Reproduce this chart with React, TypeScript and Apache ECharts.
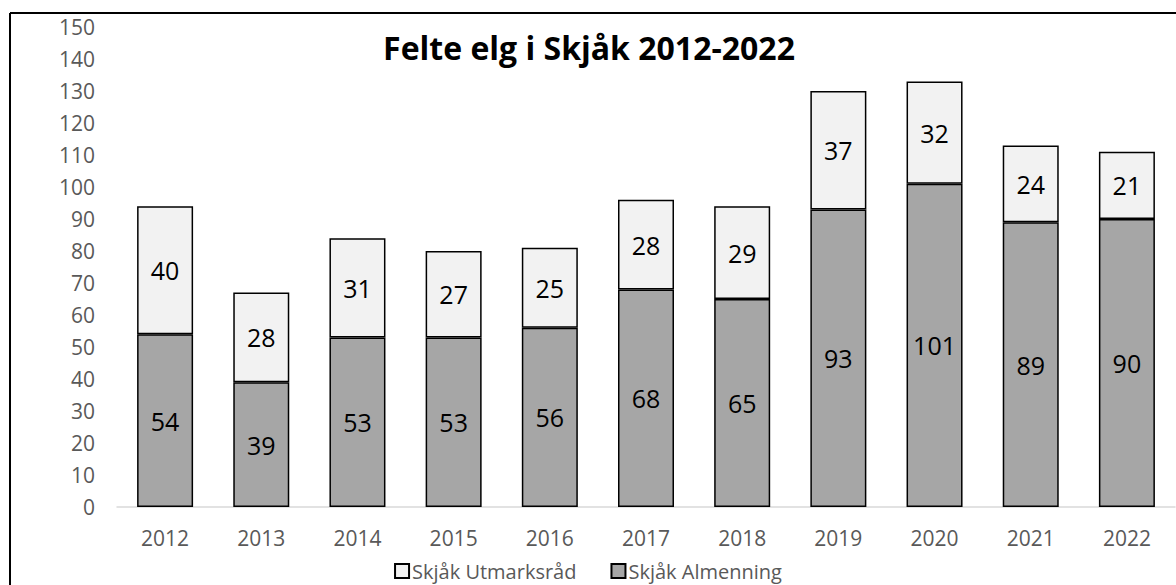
import React, { useEffect, useRef } from "react";
import * as echarts from "echarts";

const years = ["2012", "2013", "2014", "2015", "2016", "2017", "2018", "2019", "2020", "2021", "2022"];
const almenning = [54, 39, 53, 53, 56, 68, 65, 93, 101, 89, 90];
const utmarksrad = [40, 28, 31, 27, 25, 28, 29, 37, 32, 24, 21];
const titleText = "Felte elg i Skjåk 2012-2022";
const seriesNames = ["Skjåk Almenning", "Skjåk Utmarksråd"];

const FONT = "'Open Sans', sans-serif";

export default function App() {
  const ref = useRef<HTMLDivElement>(null);
  useEffect(() => {
    if (!ref.current) return;
    const chart = echarts.init(ref.current, null, { renderer: "svg" });
    const labelStyle = {
      show: true,
      position: "inside",
      color: "#000",
      fontFamily: FONT,
      fontSize: 25,
    };
    chart.setOption({
      animation: false,
      backgroundColor: "#fff",
      title: {
        text: titleText,
        left: 584,
        top: 26,
        textAlign: "center",
        textStyle: { fontFamily: FONT, fontSize: 32, fontWeight: "bold", color: "#000" },
      },
      legend: {
        data: [seriesNames[1], seriesNames[0]],
        left: "center",
        top: 556,
        itemWidth: 14,
        itemHeight: 14,
        itemGap: 34,
        icon: "rect",
        textStyle: { fontFamily: FONT, fontSize: 20, color: "#595959", padding: [0, 0, 0, -2] },
      },
      grid: { left: 117, right: 1, top: 27, bottom: 585 - 507 },
      xAxis: {
        type: "category",
        data: years,
        axisLine: { show: true, lineStyle: { color: "#d9d9d9", width: 1.5 } },
        axisTick: { show: false },
        axisLabel: { color: "#595959", fontFamily: FONT, fontSize: 21, margin: 20 },
      },
      yAxis: {
        type: "value",
        min: 0,
        max: 150,
        interval: 10,
        splitLine: { show: false },
        axisLine: { show: false },
        axisTick: { show: false },
        axisLabel: { color: "#595959", fontFamily: FONT, fontSize: 21, margin: 22 },
      },
      series: [
        {
          name: seriesNames[0],
          type: "bar",
          stack: "total",
          data: almenning,
          barWidth: 56,
          itemStyle: { color: "#a6a6a6", borderColor: "#000", borderWidth: 1.5 },
          label: labelStyle,
        },
        {
          name: seriesNames[1],
          type: "bar",
          stack: "total",
          data: utmarksrad,
          barWidth: 56,
          itemStyle: { color: "#f2f2f2", borderColor: "#000", borderWidth: 1.5 },
          label: labelStyle,
        },
      ],
      graphic: [
        { type: "line", shape: { x1: 10, y1: 13, x2: 1176, y2: 13 }, style: { stroke: "#000", lineWidth: 2 } },
        { type: "line", shape: { x1: 10, y1: 13, x2: 10, y2: 585 }, style: { stroke: "#000", lineWidth: 2 } },
      ],
    });
    return () => chart.dispose();
  }, []);
  return (
    <div
      ref={ref}
      style={{ position: "absolute", left: 0, top: 0, width: 1176, height: 585 }}
    />
  );
}
